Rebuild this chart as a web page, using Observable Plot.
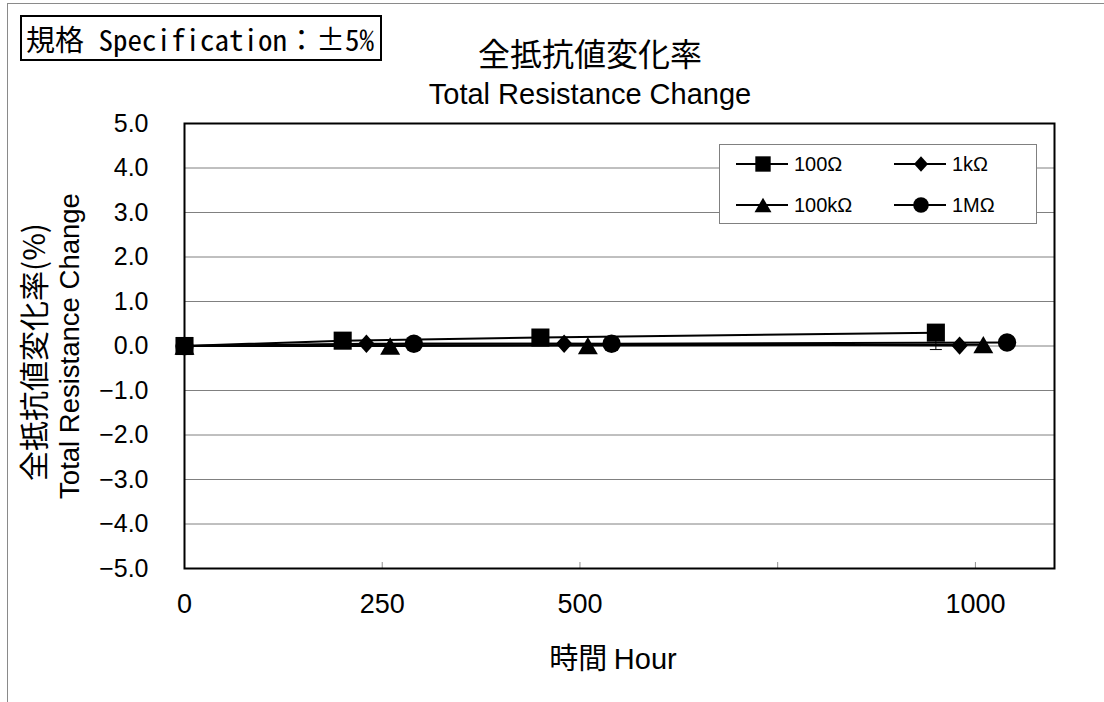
<!DOCTYPE html>
<html>
<head>
<meta charset="utf-8">
<script src="https://cdn.jsdelivr.net/npm/d3@7"></script>
<script src="https://cdn.jsdelivr.net/npm/@observablehq/plot@0.6"></script>
<style>
  html, body { margin: 0; padding: 0; background: #fff; }
  #wrap { position: relative; width: 1104px; height: 702px; overflow: hidden; background: #fff; }
  #outer { position: absolute; left: 7px; top: 3px; width: 1300px; height: 900px; border: 1px solid #8a8a8a; }
  .abs { position: absolute; white-space: nowrap; color: #000; }
  #spec { left: 20px; top: 15px; width: 354px; height: 42px; border: 2px solid #000; background: #fff;
          font-family: "Noto Sans Mono CJK JP", "Noto Sans CJK JP", monospace; font-size: 29px; line-height: 42px; padding-left: 4px; box-sizing: content-box; }
  #title { left: 590px; top: 52px; transform: translate(-50%, -50%); font-family: "Noto Sans CJK JP"; font-size: 32px; }
  #subtitle { left: 590px; top: 94px; transform: translate(-50%, -50%); font-family: "Liberation Sans", Arial; font-size: 29px; }
  #xtitle { left: 613px; top: 656px; transform: translate(-50%, -50%); font-family: "Noto Sans CJK JP", "Liberation Sans"; font-size: 29px; }
  #xtitle .lat { font-family: "Liberation Sans", Arial; }
  #ytitle1 { left: 32px; top: 352px; transform: translate(-50%, -50%) rotate(-90deg); font-family: "Noto Sans CJK JP"; font-size: 30px; }
  #ytitle2 { left: 70px; top: 346px; transform: translate(-50%, -50%) rotate(-90deg); font-family: "Liberation Sans", Arial; font-size: 27.5px; }
  #legend { left: 719px; top: 144px; width: 316px; height: 78px; border: 1px solid #808080; background: #fff; }
  .item { position: absolute; display: flex; align-items: center; font-family: "Liberation Sans", Arial; font-size: 20px; }
</style>
</head>
<body>
<div id="wrap">
  <div id="outer"></div>
  <div id="chart" class="abs" style="left:0;top:0;"></div>
  <div id="spec" class="abs">規格 Specification：±5%</div>
  <div id="title" class="abs">全抵抗値変化率</div>
  <div id="subtitle" class="abs">Total Resistance Change</div>
  <div id="xtitle" class="abs">時間 <span class="lat">Hour</span></div>
  <div id="ytitle1" class="abs">全抵抗値変化率(%)</div>
  <div id="ytitle2" class="abs">Total Resistance Change</div>
  <div id="legend" class="abs"></div>
</div>
<script>
// ---- data ----
const seriesNames = ["100Ω", "1kΩ", "100kΩ", "1MΩ"];
const hours100 = [0, 200, 450, 950];
const vals100 = [0, 0.12, 0.19, 0.30];
const hours1k = [0, 230, 480, 980];
const vals1k = [0, 0.05, 0.05, 0.01];
const hours100k = [0, 260, 510, 1010];
const vals100k = [0, 0.00, 0.01, 0.03];
const hours1M = [0, 290, 540, 1040];
const vals1M = [0, 0.05, 0.05, 0.08];
// error bar (100Ω at 1000 h)
const errHour = [950];
const errHigh = [0.30];
const errLow = [-0.08];
const yTicks = [-5, -4, -3, -2, -1, 0, 1, 2, 3, 4, 5];
const xTickLabels = [0, 250, 500, 1000];
const xTickMarks = [250, 500, 750, 1000];

// custom symbols (centered on bounding box like spreadsheet markers)
const triSym = {
  draw(ctx, size) {
    const s = Math.sqrt(4 * size / Math.sqrt(3));
    const h = s * Math.sqrt(3) / 2;
    ctx.moveTo(0, -h / 2); ctx.lineTo(s / 2, h / 2); ctx.lineTo(-s / 2, h / 2); ctx.closePath();
  }
};
const diaSym = {
  draw(ctx, size) {
    const w = Math.sqrt(size) * 0.9, hh = Math.sqrt(size) * 1.0;
    ctx.moveTo(0, -hh / 2 * 1.1); ctx.lineTo(w / 2 * 1.1, 0); ctx.lineTo(0, hh / 2 * 1.1); ctx.lineTo(-w / 2 * 1.1, 0); ctx.closePath();
  }
};
const capSym = {
  draw(ctx, size) { const w = 6; ctx.moveTo(-w, 0); ctx.lineTo(w, 0); }
};

const series = [
  {name: seriesNames[0], hours: hours100, vals: vals100, symbol: "square", r: 10.2},
  {name: seriesNames[1], hours: hours1k, vals: vals1k, symbol: diaSym, r: 9.4},
  {name: seriesNames[2], hours: hours100k, vals: vals100k, symbol: triSym, r: 7.4},
  {name: seriesNames[3], hours: hours1M, vals: vals1M, symbol: "circle", r: 9.2}
];
const rows = series.flatMap(s => s.hours.map((h, i) => ({series: s.name, hour: h, value: s.vals[i]})));
const errRows = errHour.map((h, i) => ({hour: h, hi: errHigh[i], lo: errLow[i]}));

const marks = [
  Plot.ruleY(yTicks, {stroke: "#808080", strokeWidth: 1}),
  Plot.tickX(xTickMarks, {x: d => d, stroke: "#909090", strokeWidth: 1, insetTop: 439}),
  Plot.axisY({ticks: yTicks, tickSize: 0, tickPadding: 36, tickFormat: d3.format(".1f"), fontSize: 25, label: null}),
  Plot.axisX({ticks: xTickLabels, tickSize: 0, tickPadding: 25, tickFormat: d => String(d), fontSize: 27, label: null}),
  Plot.ruleX(errRows, {x: "hour", y1: "lo", y2: "hi", stroke: "#000", strokeWidth: 1}),
  Plot.dot(errRows, {x: "hour", y: "lo", symbol: capSym, r: 3, stroke: "#000", strokeWidth: 1, fill: "none"})
];
// draw lines in reverse so 100Ω is on top
for (const s of series.slice().reverse()) {
  marks.push(Plot.line(rows.filter(d => d.series === s.name), {x: "hour", y: "value", stroke: "#000", strokeWidth: 2}));
}
for (const s of series.slice().reverse()) {
  marks.push(Plot.dot(rows.filter(d => d.series === s.name), {x: "hour", y: "value", symbol: s.symbol, r: s.r, fill: "#000", stroke: "none"}));
}
marks.push(Plot.frame({stroke: "#000", strokeWidth: 2}));

const chart = Plot.plot({
  width: 1104,
  height: 702,
  marginLeft: 184,
  marginRight: 50,
  marginTop: 123,
  marginBottom: 134,
  x: {domain: [0, 1100]},
  y: {domain: [-5, 5]},
  style: {fontFamily: "'Liberation Sans', Arial, sans-serif", color: "#000", background: "transparent", overflow: "visible"},
  marks
});
document.getElementById("chart").appendChild(chart);

// ---- legend ----
const legend = document.getElementById("legend");
const pos = [[16, 19], [174, 19], [16, 60], [174, 60]];
series.forEach((s, i) => {
  const item = document.createElement("div");
  item.className = "item";
  item.style.left = pos[i][0] + "px";
  item.style.top = (pos[i][1] - 12) + "px";
  item.style.height = "24px";
  const svg = d3.create("svg").attr("width", 52).attr("height", 24).style("overflow", "visible");
  svg.append("line").attr("x1", 0).attr("x2", 52).attr("y1", 12).attr("y2", 12).attr("stroke", "#000").attr("stroke-width", 2);
  const symType = typeof s.symbol === "string" ? (s.symbol === "square" ? d3.symbolSquare : d3.symbolCircle) : s.symbol;
  svg.append("path").attr("transform", "translate(27,12)")
     .attr("d", d3.symbol(symType, Math.PI * (s.r * 0.85) ** 2)()).attr("fill", "#000");
  item.appendChild(svg.node());
  const t = document.createElement("span");
  t.textContent = s.name;
  t.style.marginLeft = "6px";
  item.appendChild(t);
  legend.appendChild(item);
});
</script>
</body>
</html>
